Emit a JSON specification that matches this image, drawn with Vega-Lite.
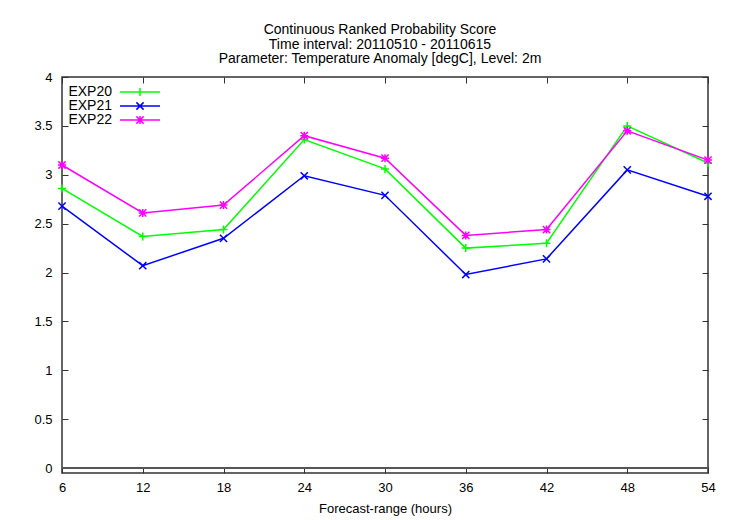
{
  "$schema": "https://vega.github.io/schema/vega-lite/v6.json",
  "width": 646,
  "height": 396,
  "autosize": {"type": "none"},
  "padding": {"left": 62, "top": 77, "right": 22, "bottom": 47},
  "background": "white",
  "config": {
    "font": "Liberation Sans",
    "view": {"stroke": "#333333", "strokeWidth": 1.5},
    "axis": {
      "domain": false,
      "grid": false,
      "tickColor": "#333333",
      "tickWidth": 1,
      "tickSize": -6,
      "labelColor": "#000000",
      "labelFontSize": 13,
      "titleColor": "#000000",
      "titleFontSize": 13,
      "titleFontWeight": "normal",
      "labelFlush": false,
      "labelOverlap": false
    }
  },
  "title": {
    "text": [
      "Continuous Ranked Probability Score",
      "Time interval: 20110510 - 20110615",
      "Parameter: Temperature Anomaly [degC], Level: 2m"
    ],
    "fontSize": 14,
    "fontWeight": "normal",
    "lineHeight": 14.5,
    "anchor": "middle",
    "color": "#000000",
    "offset": 5,
    "dx": -5
  },
  "data": {
    "values": [
      {"range": 6, "series": "EXP20", "crps": 2.86},
      {"range": 12, "series": "EXP20", "crps": 2.37},
      {"range": 18, "series": "EXP20", "crps": 2.44},
      {"range": 24, "series": "EXP20", "crps": 3.36},
      {"range": 30, "series": "EXP20", "crps": 3.06},
      {"range": 36, "series": "EXP20", "crps": 2.25},
      {"range": 42, "series": "EXP20", "crps": 2.30},
      {"range": 48, "series": "EXP20", "crps": 3.50},
      {"range": 54, "series": "EXP20", "crps": 3.12},
      {"range": 6, "series": "EXP21", "crps": 2.68},
      {"range": 12, "series": "EXP21", "crps": 2.07},
      {"range": 18, "series": "EXP21", "crps": 2.35},
      {"range": 24, "series": "EXP21", "crps": 2.99},
      {"range": 30, "series": "EXP21", "crps": 2.79},
      {"range": 36, "series": "EXP21", "crps": 1.98},
      {"range": 42, "series": "EXP21", "crps": 2.14},
      {"range": 48, "series": "EXP21", "crps": 3.05},
      {"range": 54, "series": "EXP21", "crps": 2.78},
      {"range": 6, "series": "EXP22", "crps": 3.10},
      {"range": 12, "series": "EXP22", "crps": 2.61},
      {"range": 18, "series": "EXP22", "crps": 2.69},
      {"range": 24, "series": "EXP22", "crps": 3.40},
      {"range": 30, "series": "EXP22", "crps": 3.17},
      {"range": 36, "series": "EXP22", "crps": 2.38},
      {"range": 42, "series": "EXP22", "crps": 2.44},
      {"range": 48, "series": "EXP22", "crps": 3.45},
      {"range": 54, "series": "EXP22", "crps": 3.15}
    ]
  },
  "layer": [
    {
      "mark": {"type": "rule", "color": "#555555", "strokeWidth": 1},
      "encoding": {
        "y": {"datum": 0, "type": "quantitative", "axis": null}
      }
    },
    {
      "mark": {"type": "line", "strokeWidth": 1.5},
      "encoding": {
        "x": {
          "field": "range",
          "type": "quantitative",
          "scale": {"domain": [6, 54], "nice": false, "zero": false},
          "axis": {
            "orient": "bottom",
            "values": [6, 12, 18, 24, 30, 36, 42, 48, 54],
            "title": "Forecast-range (hours)",
            "labelPadding": 14,
            "titlePadding": 8
          }
        },
        "y": {
          "field": "crps",
          "type": "quantitative",
          "scale": {"domain": [-0.05, 4], "nice": false, "zero": false},
          "axis": {
            "orient": "left",
            "values": [0, 0.5, 1, 1.5, 2, 2.5, 3, 3.5, 4],
            "format": "~g",
            "title": null,
            "labelPadding": 16
          }
        },
        "color": {
          "field": "series",
          "type": "nominal",
          "scale": {
            "domain": ["EXP20", "EXP21", "EXP22"],
            "range": ["#00ff00", "#0000ff", "#ff00ff"]
          },
          "legend": {
            "orient": "none",
            "legendX": 71,
            "legendY": 8,
            "title": null,
            "padding": 0,
            "rowPadding": 0,
            "labelFontSize": 14,
            "labelColor": "#000000",
            "labelAlign": "right",
            "labelOffset": -35,
            "symbolSize": 64,
            "symbolStrokeWidth": 1.5,
            "symbolFillColor": "transparent",
            "encode": {
              "symbols": {
                "update": {
                  "fill": {"value": "transparent"},
                  "shape": {
                    "signal": "datum.value === 'EXP20' ? 'M-5,0L5,0M0,-1L0,1' : datum.value === 'EXP21' ? 'M-5,0L5,0M-0.9,-0.9L0.9,0.9M-0.9,0.9L0.9,-0.9' : 'M-5,0L5,0M0,-1L0,1M-0.9,-0.9L0.9,0.9M-0.9,0.9L0.9,-0.9'"
                  }
                }
              }
            }
          }
        }
      }
    },
    {
      "transform": [{"filter": "datum.series === 'EXP20'"}],
      "mark": {"type": "point", "filled": false, "size": 64, "strokeWidth": 1.5, "opacity": 1, "color": "#00ff00", "shape": "M-1,0L1,0M0,-1L0,1"},
      "encoding": {
        "x": {
          "field": "range",
          "type": "quantitative",
          "scale": {"domain": [6, 54], "nice": false, "zero": false},
          "axis": {
            "orient": "top",
            "values": [6, 12, 18, 24, 30, 36, 42, 48, 54],
            "labels": false,
            "title": null
          }
        },
        "y": {
          "field": "crps",
          "type": "quantitative",
          "scale": {"domain": [-0.05, 4], "nice": false, "zero": false},
          "axis": {
            "orient": "right",
            "values": [0, 0.5, 1, 1.5, 2, 2.5, 3, 3.5, 4],
            "labels": false,
            "title": null
          }
        }
      }
    },
    {
      "transform": [{"filter": "datum.series === 'EXP21'"}],
      "mark": {"type": "point", "filled": false, "size": 64, "strokeWidth": 1.5, "opacity": 1, "color": "#0000ff", "shape": "M-0.9,-0.9L0.9,0.9M-0.9,0.9L0.9,-0.9"},
      "encoding": {
        "x": {"field": "range", "type": "quantitative", "axis": null},
        "y": {"field": "crps", "type": "quantitative", "axis": null}
      }
    },
    {
      "transform": [{"filter": "datum.series === 'EXP22'"}],
      "mark": {"type": "point", "filled": false, "size": 64, "strokeWidth": 1.5, "opacity": 1, "color": "#ff00ff", "shape": "M-1,0L1,0M0,-1L0,1M-0.9,-0.9L0.9,0.9M-0.9,0.9L0.9,-0.9"},
      "encoding": {
        "x": {"field": "range", "type": "quantitative", "axis": null},
        "y": {"field": "crps", "type": "quantitative", "axis": null}
      }
    }
  ],
  "resolve": {"axis": {"x": "independent", "y": "independent"}}
}
